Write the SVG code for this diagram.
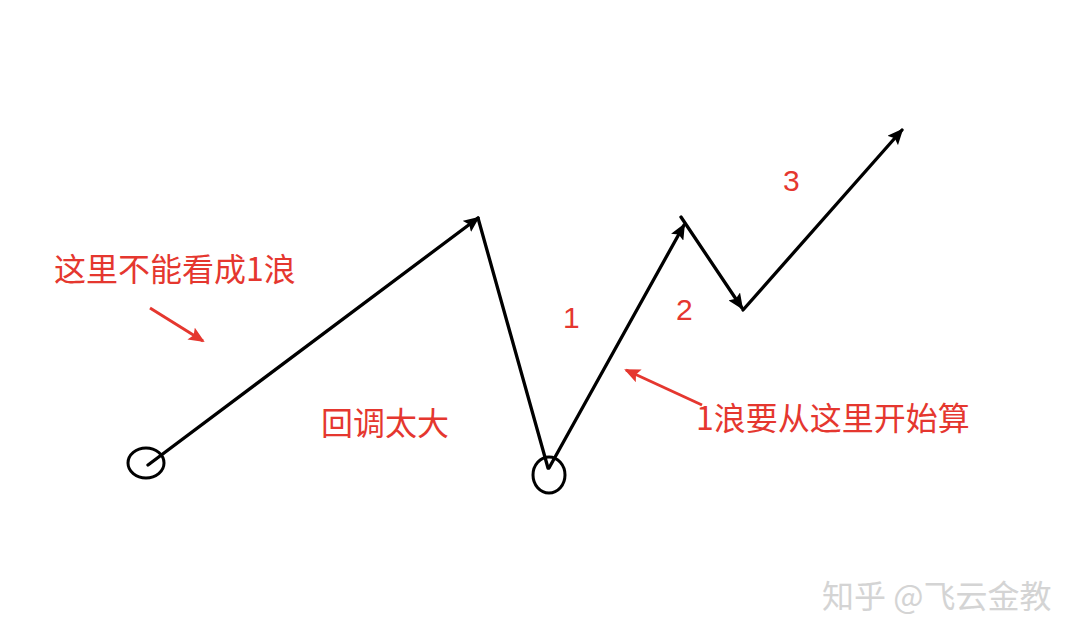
<svg xmlns="http://www.w3.org/2000/svg" width="1080" height="642" viewBox="0 0 1080 642">
<defs>
<marker id="ah" markerWidth="16" markerHeight="14" refX="14" refY="7" orient="auto" markerUnits="userSpaceOnUse" viewBox="0 0 16 14"><path d="M0,0 L16,7 L0,14 L3,7 z" fill="#000"/></marker>
<marker id="rh" markerWidth="16" markerHeight="14" refX="14" refY="7" orient="auto" markerUnits="userSpaceOnUse" viewBox="0 0 16 14"><path d="M0,0 L16,7 L0,14 L3,7 z" fill="#e5372f"/></marker>
<style>
.w{stroke:#000;stroke-width:3.3;fill:none;stroke-linecap:round}
.r{stroke:#e5372f;stroke-width:3;fill:none}
.t{fill:#e5372f;font-family:"Noto Sans CJK SC","Noto Sans",sans-serif;font-size:32px}
.n{fill:#e5372f;font-family:"Liberation Sans",sans-serif;font-size:30px}
</style>
</defs>
<rect width="1080" height="642" fill="#fff"/>
<g id="connectors">
<line class="w" x1="148" y1="465" x2="478" y2="218" marker-end="url(#ah)"/>
<line class="w" x1="478" y1="218" x2="548" y2="468"/>
<line class="w" x1="549" y1="468" x2="684" y2="225" marker-end="url(#ah)"/>
<line class="w" x1="681" y1="217" x2="742" y2="308" marker-end="url(#ah)"/>
<line class="w" x1="743" y1="310" x2="902" y2="130" marker-end="url(#ah)"/>
<line class="r" x1="150" y1="308" x2="203" y2="341" marker-end="url(#rh)"/>
<line class="r" x1="702" y1="405" x2="626" y2="370" marker-end="url(#rh)"/>
</g>
<g id="circle1"><ellipse cx="146" cy="463" rx="18" ry="15" fill="none" stroke="#000" stroke-width="3"/></g>
<g id="circle2"><ellipse cx="549" cy="475" rx="16" ry="18" fill="none" stroke="#000" stroke-width="3"/></g>
<g id="label1"><text class="t" x="54" y="281">这里不能看成1浪</text></g>
<g id="label2"><text class="t" x="321" y="435">回调太大</text></g>
<g id="label3"><text class="t" x="696" y="430">1浪要从这里开始算</text></g>
<g id="n1"><text class="n" x="563" y="328">1</text></g>
<g id="n2"><text class="n" x="676" y="320">2</text></g>
<g id="n3"><text class="n" x="783" y="191">3</text></g>
<g id="watermark"><text x="822" y="608" fill="#d4d4d4" font-family="Noto Sans CJK SC,sans-serif" font-size="32">知乎 @飞云金教</text></g>
</svg>
